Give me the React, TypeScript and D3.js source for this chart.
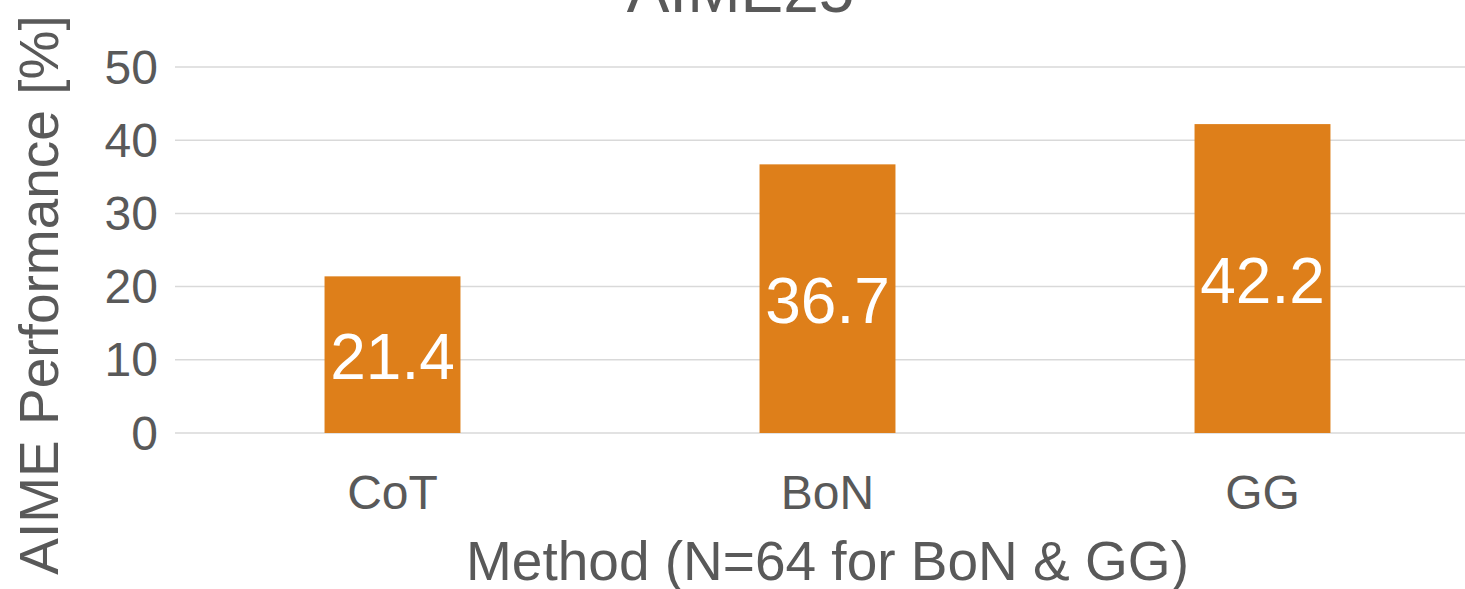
/**
 * AIME25 — Bar chart comparing methods (CoT / BoN / GG).
 * Single series, value labels inside bars, horizontal gridlines only.
 */
import { useEffect, useRef } from 'react'
import * as d3 from 'd3'

const CATEGORIES = ['CoT', 'BoN', 'GG']
const VALUES = [21.4, 36.7, 42.2]
const Y_TICKS = [0, 10, 20, 30, 40, 50]

const TITLE = 'AIME25'
const X_TITLE = 'Method (N=64 for BoN & GG)'
const Y_TITLE = 'AIME Performance [%]'

const W = 1465
const H = 589
const PLOT = { left: 175, right: 1480, top: 67, bottom: 433 }
const FONT = '"Liberation Sans", Arial, Helvetica, sans-serif'
const TEXT_COLOR = '#595959'
const BAR_COLOR = '#DE7F1A'
const GRID_COLOR = '#D9D9D9'

export default function App() {
  const svgRef = useRef<SVGSVGElement | null>(null)

  useEffect(() => {
    document.body.style.margin = '0'
    if (!svgRef.current) return

    const data = CATEGORIES.map((c, i) => ({ cat: c, value: VALUES[i] }))

    const x = d3.scaleBand<string>()
      .domain(CATEGORIES)
      .range([PLOT.left, PLOT.right])
      .paddingInner(0.6875)
      .paddingOuter(0.34375)

    const y = d3.scaleLinear()
      .domain([0, 50])
      .range([PLOT.bottom, PLOT.top])

    const svg = d3.select(svgRef.current)
    svg.selectAll('*').remove()
    svg.attr('width', W).attr('height', H).style('font-family', FONT)

    // ── Grid ────────────────────────────────────────────────────────────────
    svg.append('g')
      .selectAll('line').data(Y_TICKS).join('line')
      .attr('x1', PLOT.left).attr('x2', PLOT.right)
      .attr('y1', (d) => y(d)).attr('y2', (d) => y(d))
      .attr('stroke', GRID_COLOR).attr('stroke-width', 1.5)

    // ── Y tick labels ───────────────────────────────────────────────────────
    svg.append('g')
      .selectAll('text').data(Y_TICKS).join('text')
      .attr('x', 158).attr('y', (d) => y(d))
      .attr('text-anchor', 'end').attr('dominant-baseline', 'central')
      .attr('font-size', 48).attr('fill', TEXT_COLOR)
      .text((d) => d)

    // ── Bars ────────────────────────────────────────────────────────────────
    svg.append('g')
      .selectAll('rect').data(data).join('rect')
      .attr('x', (d) => x(d.cat)!)
      .attr('width', x.bandwidth())
      .attr('y', (d) => y(d.value))
      .attr('height', (d) => y(0) - y(d.value))
      .attr('fill', BAR_COLOR)

    // Value labels (centred in bar)
    svg.append('g')
      .selectAll('text').data(data).join('text')
      .attr('x', (d) => x(d.cat)! + x.bandwidth() / 2)
      .attr('y', (d) => (y(d.value) + y(0)) / 2 + 2)
      .attr('text-anchor', 'middle').attr('dominant-baseline', 'central')
      .attr('font-size', 64).attr('fill', '#ffffff')
      .text((d) => d.value.toFixed(1))

    // ── X tick labels ───────────────────────────────────────────────────────
    svg.append('g')
      .selectAll('text').data(CATEGORIES).join('text')
      .attr('x', (d) => x(d)! + x.bandwidth() / 2)
      .attr('y', 509)
      .attr('text-anchor', 'middle')
      .attr('font-size', 48).attr('fill', TEXT_COLOR)
      .text((d) => d)

    // ── Titles ──────────────────────────────────────────────────────────────
    svg.append('text')
      .attr('x', (PLOT.left + PLOT.right) / 2 - 87).attr('y', 12)
      .attr('text-anchor', 'middle')
      .attr('font-size', 64).attr('fill', TEXT_COLOR)
      .text(TITLE)

    svg.append('text')
      .attr('x', x(CATEGORIES[1])! + x.bandwidth() / 2).attr('y', 580)
      .attr('text-anchor', 'middle')
      .attr('font-size', 55).attr('fill', TEXT_COLOR)
      .text(X_TITLE)

    svg.append('text')
      .attr('transform', `translate(58,295) rotate(-90)`)
      .attr('text-anchor', 'middle')
      .attr('font-size', 55).attr('fill', TEXT_COLOR)
      .text(Y_TITLE)
  }, [])

  return <svg ref={svgRef} style={{ display: 'block' }} />
}
